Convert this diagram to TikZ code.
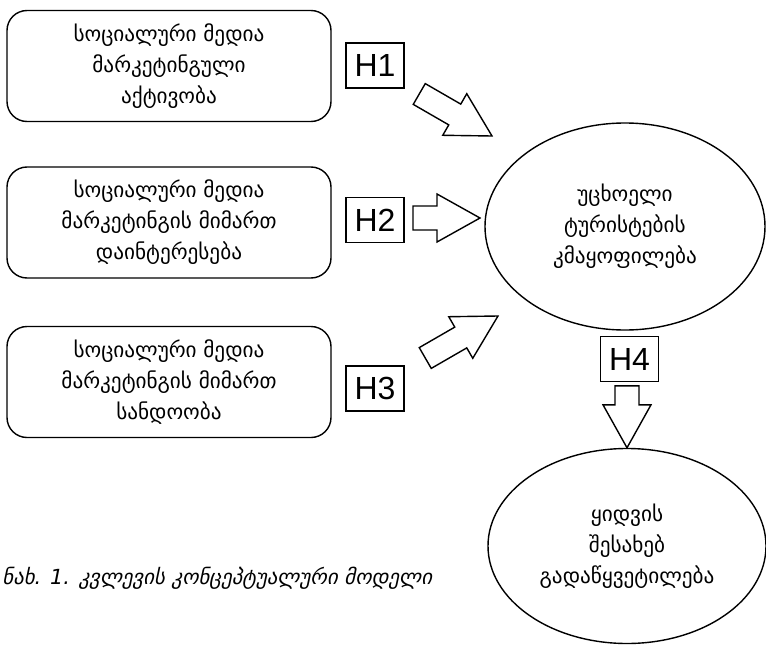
\documentclass[tikz,border=0pt]{standalone}
\usepackage{fontspec}
\setmainfont{DejaVu Sans}
\newfontfamily\latinfont{Liberation Sans}
\usetikzlibrary{shapes.geometric}

\newcommand\geofont{\fontsize{10.6}{15.5}\selectfont}

\tikzset{
  factor/.style={draw, line width=0.7pt, rounded corners=10pt,
    minimum width=162pt, minimum height=55.5pt, align=center, font=\geofont},
  outcome/.style={draw, ellipse, line width=0.7pt, inner sep=0pt,
    align=center, font=\geofont},
  hyp/.style={draw, line width=0.7pt, minimum width=29pt, minimum height=22.5pt,
    inner sep=0pt, font=\latinfont\fontsize{16}{16}\selectfont},
  pics/blockarrow/.style={code={
    \draw[line width=0.7pt] (0,0) -- (-43,24) -- (-43,12) -- (-43-#1,12)
      -- (-43-#1,-12) -- (-43,-12) -- (-43,-24) -- cycle;
  }}
}

\begin{document}
\begin{tikzpicture}[x=0.5pt, y=-0.5pt]
      \useasboundingbox (0,0) rectangle (766,648);

      % factors
      \node[factor] (act) at (169,66) {სოციალური მედია\\მარკეტინგული\\აქტივობა};
      \node[factor] (int) at (169,222.5) {სოციალური მედია\\მარკეტინგის მიმართ\\დაინტერესება};
      \node[factor] (trust) at (169,382) {სოციალური მედია\\მარკეტინგის მიმართ\\სანდოობა};

      % outcomes
      \node[outcome, minimum width=140pt, minimum height=103.5pt] (sat) at (625,226.5) {უცხოელი\\ტურისტების\\კმაყოფილება};
      \node[outcome, minimum width=139pt, minimum height=97.5pt] (dec) at (627,546) {ყიდვის\\შესახებ\\გადაწყვეტილება};

      % hypotheses
      \node[hyp] (h1) at (375,65.5) {H1};
      \node[hyp] (h2) at (375,220) {H2};
      \node[hyp] (h3) at (375,388.5) {H3};
      \node[hyp] (h4) at (629.5,359) {H4};

      \pic[rotate=-30] at (492,136) {blockarrow=41};
      \pic at (480,218) {blockarrow=24};
      \pic[rotate=30] at (498,316) {blockarrow=41};
      \pic[rotate=-90] at (dec.north) {blockarrow=19};

      \node[anchor=west, inner sep=0pt, font=\itshape\fontsize{10.4}{13}\selectfont] (caption) at (2,578) {ნახ. 1. კვლევის კონცეპტუალური მოდელი};
\end{tikzpicture}
\end{document}
